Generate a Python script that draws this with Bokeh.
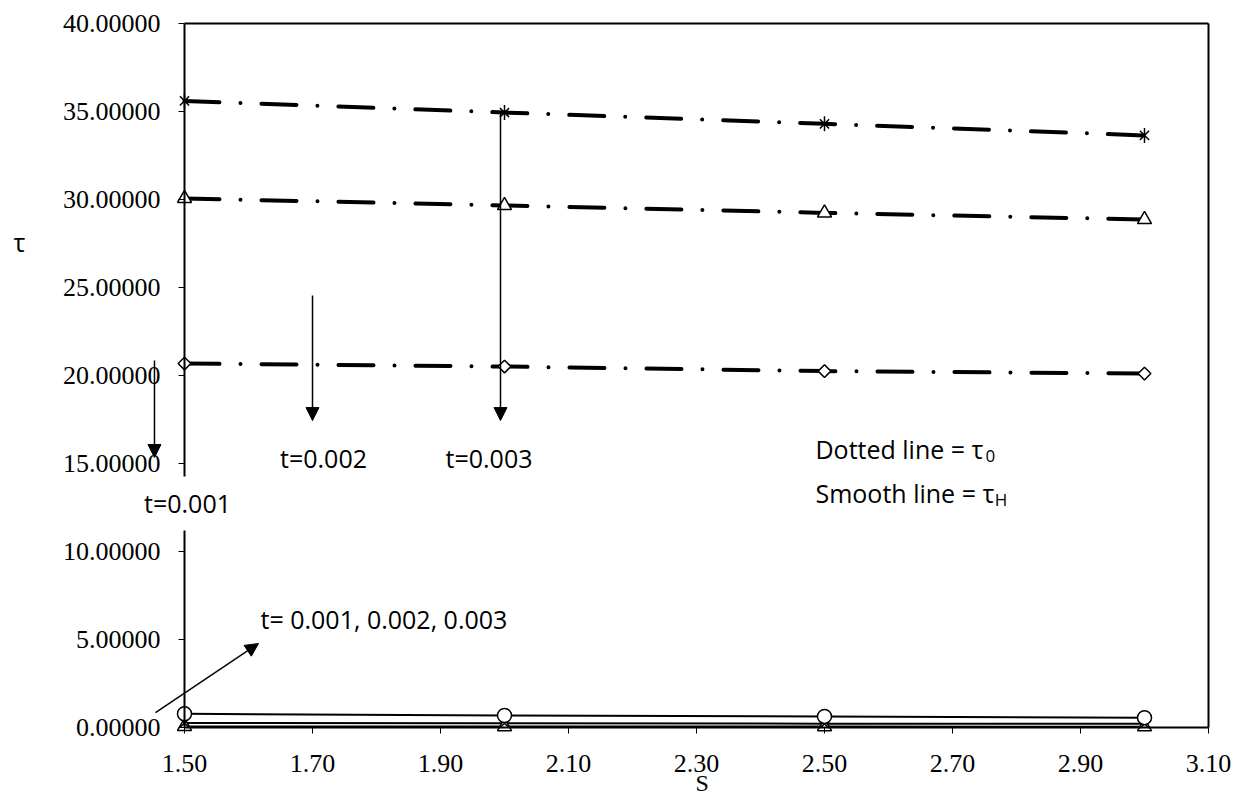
from bokeh.plotting import figure
from bokeh.models import (Range1d, FixedTicker, PrintfTickFormatter, Label, Arrow, NormalHead,
                          LinearAxis)
from bokeh.embed import file_html
from bokeh.resources import INLINE
import math

# ---- data ----
s_values = [1.5, 2.0, 2.5, 3.0]
# tau_0 (dotted / dash-dot lines)
tau0_t001 = [20.68, 20.51, 20.25, 20.11]   # diamonds
tau0_t002 = [30.06, 29.66, 29.24, 28.86]   # triangles
tau0_t003 = [35.60, 34.94, 34.30, 33.64]   # stars
# tau_H (smooth lines)
tauH_circle = [0.78, 0.68, 0.63, 0.56]
tauH_x = [0.26, 0.24, 0.22, 0.21]
tauH_tri = [0.06, 0.05, 0.05, 0.04]

x_ticks = [1.5, 1.7, 1.9, 2.1, 2.3, 2.5, 2.7, 2.9, 3.1]
y_ticks = [0, 5, 10, 15, 20, 25, 30, 35, 40]
x_min, x_max = 1.5, 3.1
y_min, y_max = 0, 40

SERIF = "Liberation Serif"
SANS = "Open Sans"

# the frame fills the whole canvas; the axes are pinned to the data box
# (x = 1.5, y = 0, x = 3.1, y = 40) so that nothing outside the box is clipped
PX_PER_X = 640.0
PX_PER_Y = 17.6
x_start = x_min - 184 / PX_PER_X
x_end = x_max + 27 / PX_PER_X
y_start = y_min - 70 / PX_PER_Y
y_end = y_max + 23 / PX_PER_Y

p = figure(width=1235, height=797, output_backend="svg", toolbar_location=None,
           x_range=Range1d(x_start, x_end), y_range=Range1d(y_start, y_end),
           min_border_left=0, min_border_right=0, min_border_top=0, min_border_bottom=0)
p.background_fill_color = "white"
p.border_fill_color = "white"
p.xgrid.visible = False
p.ygrid.visible = False
p.outline_line_color = None

xa = p.xaxis[0]
ya = p.yaxis[0]
xa.fixed_location = y_min
ya.fixed_location = x_min
xa.bounds = (x_min, x_max)
ya.bounds = (y_min, y_max)

for ax in (xa, ya):
    ax.axis_line_color = "black"
    ax.axis_line_width = 2
    ax.major_tick_line_color = "black"
    ax.major_tick_line_width = 1
    ax.major_tick_in = 0
    ax.major_tick_out = 6
    ax.minor_tick_line_color = None
    ax.major_label_text_font = SERIF
    ax.major_label_text_font_size = "26px"
    ax.major_label_text_color = "black"

xa.ticker = FixedTicker(ticks=x_ticks)
xa.formatter = PrintfTickFormatter(format="%.2f")
xa.major_label_standoff = 21
ya.ticker = FixedTicker(ticks=y_ticks)
ya.formatter = PrintfTickFormatter(format="%.5f")
ya.major_label_standoff = 18

# top and right edges of the box
top_axis = LinearAxis(ticker=FixedTicker(ticks=[]), fixed_location=y_max, bounds=(x_min, x_max),
                      axis_line_color="black", axis_line_width=2,
                      major_tick_line_color=None, minor_tick_line_color=None,
                      major_label_text_font_size="0px")
right_axis = LinearAxis(ticker=FixedTicker(ticks=[]), fixed_location=x_max, bounds=(y_min, y_max),
                        axis_line_color="black", axis_line_width=2,
                        major_tick_line_color=None, minor_tick_line_color=None,
                        major_label_text_font_size="0px")
p.add_layout(top_axis, "above")
p.add_layout(right_axis, "right")

# dash-dot tau_0 lines
dashdot = "35 21 0 21"
for ys in (tau0_t001, tau0_t002, tau0_t003):
    p.line(s_values, ys, line_color="black", line_width=4, line_dash=dashdot, line_cap="round")

# smooth tau_H lines
for ys in (tauH_circle, tauH_x, tauH_tri):
    p.line(s_values, ys, line_color="black", line_width=2)

# markers
p.scatter(s_values, tau0_t001, marker="square", angle=math.pi / 4, size=9,
          fill_color="white", line_color="black", line_width=1.5)
p.scatter(s_values, tau0_t002, marker="triangle", size=14,
          fill_color="white", line_color="black", line_width=1.5)
p.scatter(s_values, tau0_t003, marker="x", size=13, line_color="black", line_width=1.5)
p.scatter(s_values, tau0_t003, marker="dash", angle=math.pi / 2, size=15,
          line_color="black", line_width=1.5)
p.scatter(s_values, tauH_tri, marker="triangle", size=14,
          fill_color="white", line_color="black", line_width=1.5)
p.scatter(s_values, tauH_x, marker="x", size=12, line_color="black", line_width=1.5)
p.scatter(s_values, tauH_circle, marker="circle", size=14,
          fill_color="white", line_color="black", line_width=1.5)

# arrows
def arrow(x0, y0, x1, y1):
    p.add_layout(Arrow(end=NormalHead(size=13, fill_color="black", line_color="black"),
                       x_start=x0, y_start=y0, x_end=x1, y_end=y1,
                       line_color="black", line_width=1.5))

arrow(1.4531, 20.85, 1.4531, 15.34)
arrow(1.70, 24.55, 1.70, 17.44)
arrow(1.99375, 34.94, 1.99375, 17.44)
arrow(1.4547, 0.85, 1.6156, 4.77)

def label(x, y, text, font=SANS, size="25px", align="left", baseline="middle", **kw):
    p.add_layout(Label(x=x, y=y, text=text, text_font=font, text_font_size=size,
                       text_color="black", text_align=align, text_baseline=baseline, **kw))

label(1.7172, 15.34, "t=0.002", align="center")
label(1.9758, 15.34, "t=0.003", align="center")
label(1.5047, 12.73, "t=0.001", align="center", background_fill_color="white", padding=10)
label(1.61875, 6.19, "t= 0.001, 0.002, 0.003")
label(2.4859, 15.85, "Dotted line = \u03c4")
label(2.7516, 15.45, "0", size="17px")
label(2.4859, 13.35, "Smooth line = \u03c4")
label(2.766, 12.95, "H", size="17px")

# axis titles
label(1.2422, 27.56, "\u03c4", align="center")
label(2.309, y_start + 1.5 / PX_PER_Y, "S", font=SERIF, size="24px", align="center",
      baseline="bottom")

open("out.html", "w").write(file_html(p, INLINE))
